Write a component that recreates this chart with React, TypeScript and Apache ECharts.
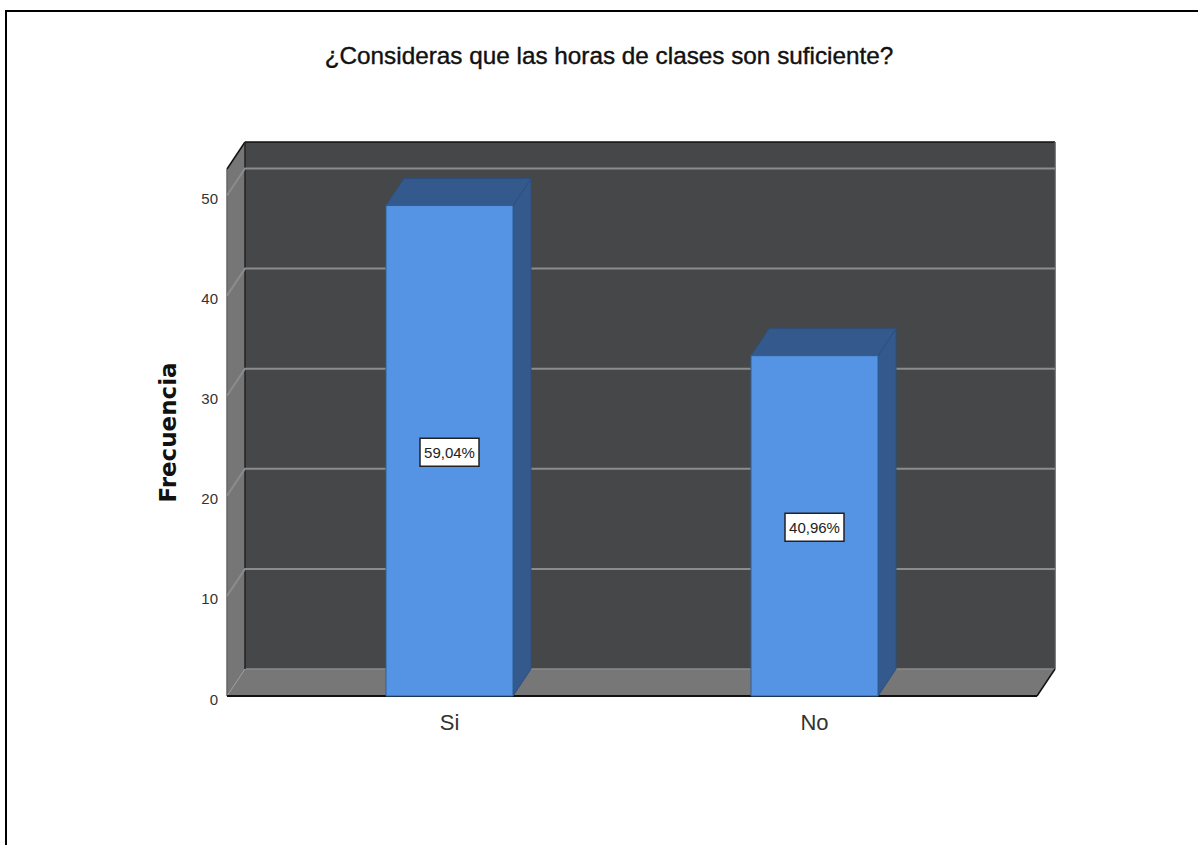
import React, { useEffect, useRef } from "react";
import * as echarts from "echarts";

const titleText = "¿Consideras que las horas de clases son suficiente?";
const axisName = "Frecuencia";
const categories = ["Si", "No"];
const frequencies = [49, 34];
const percentLabels = ["59,04%", "40,96%"];
const gridTicks = [10, 20, 30, 40, 50];

const WALL_PAD = 40;
const DX = 18;
const DY = -27;
const AXIS_TOP = 52.65;

function renderWalls(params: any, api: any) {
  const cs = params.coordSys;
  const L = cs.x - WALL_PAD;
  const R = cs.x + cs.width + WALL_PAD;
  const T = cs.y;
  const B = cs.y + cs.height;
  const poly = (points: number[][], fill: string) => ({
    type: "polygon",
    shape: { points },
    style: { fill, stroke: null },
  });
  const line = (a: number[], b: number[], stroke: string, lineWidth = 1.5) => ({
    type: "line",
    shape: { x1: a[0], y1: a[1], x2: b[0], y2: b[1] },
    style: { stroke, lineWidth },
  });
  return {
    type: "group",
    children: [
      poly([[L + DX, T + DY], [R + DX, T + DY], [R + DX, B + DY], [L + DX, B + DY]], "#464748"),
      poly([[L, T], [L + DX, T + DY], [L + DX, B + DY], [L, B]], "#767676"),
      poly([[L, B], [L + DX, B + DY], [R + DX, B + DY], [R, B]], "#777777"),
      line([L + DX, B + DY], [R + DX, B + DY], "#8a8a8a"),
      line([L, T], [L + DX, T + DY], "#111111"),
      line([L + DX, T + DY], [R + DX, T + DY], "#111111"),
      line([L + DX, T + DY], [L + DX, B + DY], "#222222"),
      line([R + DX, T + DY], [R + DX, B + DY], "#555555"),
      line([R, B], [R + DX, B + DY], "#111111"),
      line([L, T], [L, B], "#666666"),
      line([L, B], [L + DX, B + DY], "#9a9a9a", 1),
      line([L, B], [R, B], "#111111", 2),
    ],
  };
}

function renderGridline(params: any, api: any) {
  const cs = params.coordSys;
  const L = cs.x - WALL_PAD;
  const R = cs.x + cs.width + WALL_PAD;
  const y = api.coord([0, api.value(1)])[1];
  return {
    type: "polyline",
    shape: { points: [[L, y], [L + DX, y + DY], [R + DX, y + DY]] },
    style: { stroke: "#8c8c8c", lineWidth: 2, fill: null },
  };
}

function renderBar(params: any, api: any) {
  const idx = api.value(0);
  const val = api.value(1);
  const top = api.coord([idx, val]);
  const base = api.coord([idx, 0]);
  const w = api.size([1, 0])[0] * 0.348;
  const x0 = top[0] - w / 2;
  const x1 = top[0] + w / 2;
  const yT = top[1];
  const yB = base[1];
  const edge = "#2f5f96";
  const cx = (x0 + x1) / 2;
  const cy = (yT + yB) / 2;
  return {
    type: "group",
    children: [
      {
        type: "polygon",
        shape: { points: [[x1, yT], [x1 + DX, yT + DY], [x1 + DX, yB + DY], [x1, yB]] },
        style: { fill: "#34598c", stroke: "#2d5080", lineWidth: 1 },
      },
      {
        type: "polygon",
        shape: { points: [[x0, yT], [x0 + DX, yT + DY], [x1 + DX, yT + DY], [x1, yT]] },
        style: { fill: "#34598c", stroke: "#2d5080", lineWidth: 1 },
      },
      {
        type: "rect",
        shape: { x: x0, y: yT, width: x1 - x0, height: yB - yT },
        style: { fill: "#5594e4", stroke: edge, lineWidth: 1 },
      },
      {
        type: "rect",
        shape: { x: cx - 29.5, y: cy - 12.5, width: 59, height: 28 },
        style: { fill: "#ffffff", stroke: "#222222", lineWidth: 1.5 },
      },
      {
        type: "text",
        x: cx,
        y: cy + 1.5,
        style: {
          text: percentLabels[params.dataIndex],
          fill: "#222222",
          font: '15px "Liberation Sans", sans-serif',
          align: "center",
          verticalAlign: "middle",
        },
      },
    ],
  };
}

export default function App() {
  const ref = useRef<HTMLDivElement>(null);
  useEffect(() => {
    if (!ref.current) return;
    const chart = echarts.init(ref.current, null, { renderer: "svg" });
    chart.setOption({
      animation: false,
      backgroundColor: "#ffffff",
      title: {
        text: titleText,
        left: 604,
        top: 38,
        textAlign: "center",
        textStyle: {
          color: "#111111",
          fontSize: 24.3,
          fontWeight: "normal",
          fontFamily: '"Liberation Sans", Arial, sans-serif',
          textBorderColor: "#111111",
          textBorderWidth: 0.4,
        },
      },
      grid: { left: 267, right: 201, top: 169, bottom: 149 },
      xAxis: {
        type: "category",
        data: categories,
        axisLine: { show: false },
        axisTick: { show: false },
        axisLabel: {
          color: "#333333",
          fontSize: 22,
          margin: 15,
          fontFamily: '"Liberation Sans", sans-serif',
        },
      },
      yAxis: {
        type: "value",
        min: 0,
        max: AXIS_TOP,
        interval: 10,
        offset: WALL_PAD,
        name: axisName,
        nameLocation: "middle",
        nameGap: 48,
        nameTextStyle: {
          color: "#111111",
          fontSize: 23,
          fontWeight: "bold",
          fontFamily: '"DejaVu Sans", sans-serif',
        },
        axisLine: { show: false },
        axisTick: { show: false },
        splitLine: { show: false },
        axisLabel: {
          color: "#333333",
          fontSize: 15,
          margin: 9,
          showMaxLabel: false,
          verticalAlign: "top",
          lineHeight: 6,
          fontFamily: '"Liberation Sans", sans-serif',
        },
      },
      graphic: [
        { type: "line", shape: { x1: 6, y1: 11, x2: 1198, y2: 11 }, style: { stroke: "#000000", lineWidth: 2 } },
        { type: "line", shape: { x1: 6, y1: 10, x2: 6, y2: 845 }, style: { stroke: "#000000", lineWidth: 2 } },
      ],
      series: [
        { type: "custom", silent: true, renderItem: renderWalls, data: [[0, 0]], encode: { x: 0, y: 1 } },
        { type: "custom", silent: true, renderItem: renderGridline, data: gridTicks.map((v) => [0, v]), encode: { x: 0, y: 1 } },
        { type: "custom", silent: true, renderItem: renderBar, data: frequencies.map((v, i) => [i, v]), encode: { x: 0, y: 1 } },
      ],
    });
    return () => chart.dispose();
  }, []);
  return <div ref={ref} style={{ position: "absolute", left: 0, top: 0, width: 1198, height: 845 }} />;
}
